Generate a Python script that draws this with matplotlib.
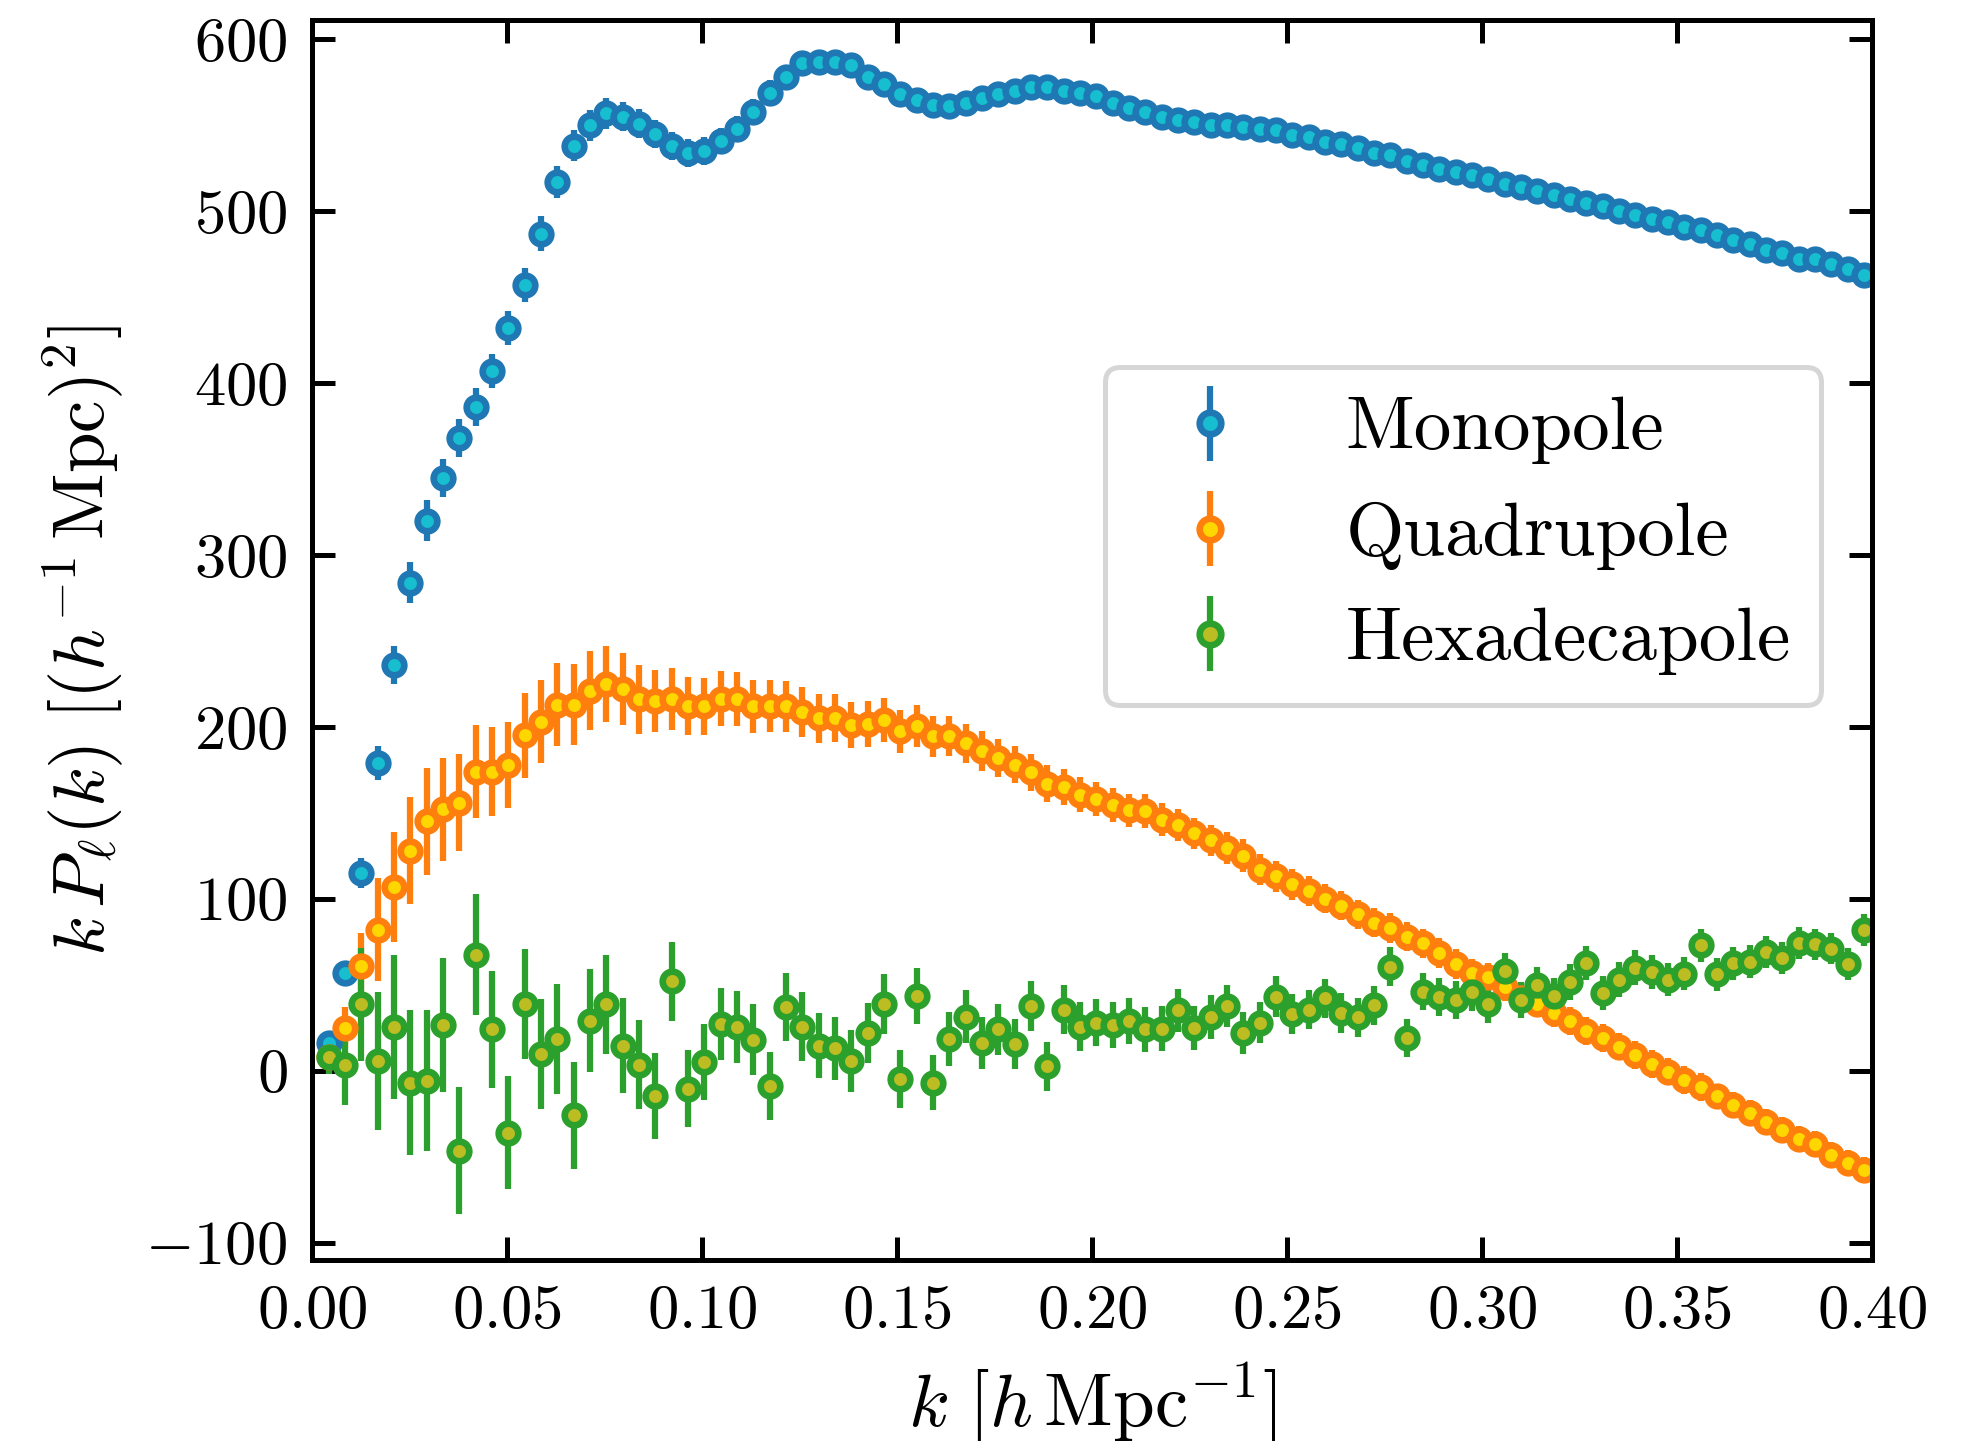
import matplotlib
matplotlib.use("Agg")
import matplotlib.pyplot as plt

plt.rcParams.update({
    "font.family": "serif",
    "font.serif": ["cmr10"],
    "mathtext.fontset": "cm",
    "axes.formatter.use_mathtext": True,
    "axes.unicode_minus": True,
})

# ---- data ----
k = [0.00419, 0.00838, 0.01257, 0.01676, 0.02094, 0.02513, 0.02932, 0.03351, 0.03770, 0.04189,
     0.04608, 0.05027, 0.05445, 0.05864, 0.06283, 0.06702, 0.07121, 0.07540, 0.07959, 0.08378,
     0.08796, 0.09215, 0.09634, 0.10053, 0.10472, 0.10891, 0.11310, 0.11729, 0.12147, 0.12566,
     0.12985, 0.13404, 0.13823, 0.14242, 0.14661, 0.15080, 0.15499, 0.15917, 0.16336, 0.16755,
     0.17174, 0.17593, 0.18012, 0.18431, 0.18850, 0.19268, 0.19687, 0.20106, 0.20525, 0.20944,
     0.21363, 0.21782, 0.22201, 0.22619, 0.23038, 0.23457, 0.23876, 0.24295, 0.24714, 0.25133,
     0.25552, 0.25970, 0.26389, 0.26808, 0.27227, 0.27646, 0.28065, 0.28484, 0.28903, 0.29322,
     0.29740, 0.30159, 0.30578, 0.30997, 0.31416, 0.31835, 0.32254, 0.32673, 0.33091, 0.33510,
     0.33929, 0.34348, 0.34767, 0.35186, 0.35605, 0.36024, 0.36442, 0.36861, 0.37280, 0.37699,
     0.38118, 0.38537, 0.38956, 0.39375, 0.39794]

monopole = [16, 57, 115, 179, 236, 284, 320, 345, 368, 386,
            407, 432, 457, 487, 517, 538, 550, 557, 555, 551,
            545, 538, 534, 535, 541, 548, 558, 569, 578, 586,
            587, 587, 585, 578, 574, 568, 565, 562, 561, 563,
            566, 568, 570, 572, 572, 570, 569, 567, 563, 560,
            558, 555, 553, 552, 550, 550, 549, 548, 547, 544.5,
            543, 540, 539, 537, 534, 533, 529, 527, 524.5, 523,
            521, 519, 516, 514, 512, 509.5, 507, 505, 503, 500,
            498, 495.5, 494, 491, 489, 486, 483, 481, 477.5, 475.5,
            472.5, 472, 469.5, 466.5, 463]
monopole_err = [5, 7, 9, 10, 11, 12, 12, 11, 11, 11,
                10, 10, 10, 10, 9.5, 9, 9, 9, 8.5, 8.5,
                8, 8, 8, 8, 7.5, 7.5, 7.5, 7.5, 7, 7,
                7, 7, 7, 6.5, 6.5, 6.5, 6.5, 6.5, 6, 6,
                6, 6, 6, 6, 6, 6, 6, 6, 6, 6,
                6, 6, 6, 6, 6, 6, 6, 6, 6, 6,
                5.5, 5.5, 5.5, 5.5, 5.5, 5.5, 5.5, 5.5, 5.5, 5.5,
                5.5, 5.5, 5.5, 5.5, 5.5, 5.5, 5.5, 5.5, 5.5, 5.5,
                5, 5, 5, 5, 5, 5, 5, 5, 5, 5,
                5, 5, 5, 5, 5]

quadrupole = [8, 25, 61, 82, 107, 128, 145, 152, 156, 174,
              174, 178, 195, 203, 213, 213, 221, 225, 222, 216,
              215, 216, 212, 212, 216.5, 216, 212, 212, 212, 208.5,
              205, 205, 201, 201.5, 204, 197.5, 200.5, 194.5, 194.5, 190.5,
              186, 182, 178, 173.5, 167, 165, 160.5, 158, 154.5, 151.5,
              151, 146, 143, 138, 134, 129.5, 125, 117, 113, 108.5,
              104.5, 100, 96, 91, 86, 83, 78, 74, 68.5, 62,
              57, 54.5, 48.5, 42, 39, 33.5, 29, 23, 19, 14,
              9, 4, -0.5, -5.5, -9.5, -15, -20, -24.5, -30, -34.5,
              -39.5, -42.5, -49, -53.5, -58]
quadrupole_err = [8, 12, 19, 30, 32, 31, 31, 30, 28, 27,
                  26, 25, 25, 24, 24, 23.5, 23, 22, 21, 20,
                  18, 18, 17, 16.5, 16, 15.7, 15.5, 15, 14.7, 14.5,
                  14.3, 14, 13.5, 13.3, 12.6, 12.4, 12, 12, 11.6, 11.4,
                  11.4, 11, 10.8, 10.8, 10.6, 10.6, 10.2, 10, 9.9, 9.7,
                  10, 9.7, 9.5, 9, 9.2, 9.4, 9.5, 9, 9, 9,
                  8.5, 8.5, 8.5, 8.5, 8.5, 8.5, 8.5, 8.5, 8.5, 8.5,
                  8, 8, 8, 8, 8, 8, 8, 8, 8, 8,
                  8, 8, 8, 8, 8, 7.5, 7.5, 7.5, 7.5, 7.5,
                  7.5, 7.5, 7.5, 7.5, 7.5]

hexadecapole = [8, 3, 38.5, 5.5, 25.5, -7, -6, 26.5, -46.5, 67.5,
                24, -36, 38.5, 9.5, 18.5, -26, 29, 38.5, 14.5, 3.5,
                -14.5, 52, -10.5, 5, 27, 25.5, 18, -9, 37, 25.5,
                14.5, 13, 5.5, 22, 39, -5, 43.5, -7, 18.5, 31.5,
                16, 24, 15.5, 37.5, 2.5, 35.5, 25.5, 28, 26.5, 29,
                24, 24.5, 35, 25, 31, 37.5, 22, 28, 43, 33,
                35.5, 42, 33.5, 31, 38, 60.5, 19, 46, 43, 41,
                45.5, 38.5, 58, 41, 50, 43.5, 51.5, 62.5, 45, 53,
                60, 57.5, 53, 56.5, 73, 56, 62.5, 63.5, 69, 65.5,
                74, 73.5, 71, 62, 82]
hexadecapole_err = [10, 23, 33, 40, 42, 42, 41, 39, 37, 35,
                    34, 33, 32, 32, 32, 31, 30, 29, 27.5, 26,
                    25, 23, 22.5, 22, 21, 21, 20.5, 20, 20, 20,
                    19, 18.5, 18, 17.5, 17.5, 17, 16.5, 16, 15.7, 15.5,
                    15.2, 15, 14.7, 14.7, 14.4, 14.3, 14.3, 13.8, 13.5, 13.3,
                    13, 13, 12.6, 12.9, 12.8, 12.3, 12.3, 12, 12, 11.7,
                    11.5, 11.5, 11.5, 11.5, 11.3, 11.3, 11.3, 11, 11, 11,
                    10.8, 10.8, 10.5, 10.5, 10.5, 10.3, 10.3, 10, 10, 10,
                    10, 9.8, 9.8, 9.6, 9.6, 9.5, 9.5, 9.4, 9.4, 9.3,
                    9.3, 9.2, 9.2, 9.2, 9.2]

labels = ["Monopole", "Quadrupole", "Hexadecapole"]
edge_colors = ["tab:blue", "tab:orange", "tab:green"]
face_colors = ["tab:cyan", "gold", "tab:olive"]
x_ticks = [0.00, 0.05, 0.10, 0.15, 0.20, 0.25, 0.30, 0.35, 0.40]
y_ticks = [-100, 0, 100, 200, 300, 400, 500, 600]

# ---- figure ----
fig = plt.figure(figsize=(1972 / 300, 1441 / 300), dpi=300)
ax = fig.add_axes([0.1584, 0.1258, 0.7909, 0.8600])

series = [(monopole, monopole_err), (quadrupole, quadrupole_err), (hexadecapole, hexadecapole_err)]
for (vals, errs), lab, ec, fc in zip(series, labels, edge_colors, face_colors):
    ax.errorbar(k, vals, yerr=errs, fmt="o", ms=4.7, mew=1.6,
                mec=ec, mfc=fc, ecolor=ec, elinewidth=1.5, capsize=0,
                label=lab)

ax.set_xlim(0.0, 0.4)
ax.set_ylim(-110, 611)
ax.set_xticks(x_ticks)
ax.set_yticks(y_ticks)
ax.tick_params(which="both", direction="in", top=True, right=True,
               length=5.5, width=1.2, labelsize=15, pad=6)
for sp in ax.spines.values():
    sp.set_linewidth(1.2)

ax.set_xlabel(r"$k\ [h\,\mathrm{Mpc}^{-1}]$", fontsize=18, labelpad=5)
ax.set_ylabel(r"$k\,P_\ell(k)\ [(h^{-1}\,\mathrm{Mpc})^2]$", fontsize=17.5, labelpad=5)

leg = ax.legend(loc="upper right", bbox_to_anchor=(0.967, 0.7205),
                borderaxespad=0, fontsize=18, frameon=True, fancybox=True,
                edgecolor="0.8", framealpha=0.8, markerscale=1.1)
leg.get_frame().set_linewidth(1.2)

fig.savefig("out.png", dpi=300)
